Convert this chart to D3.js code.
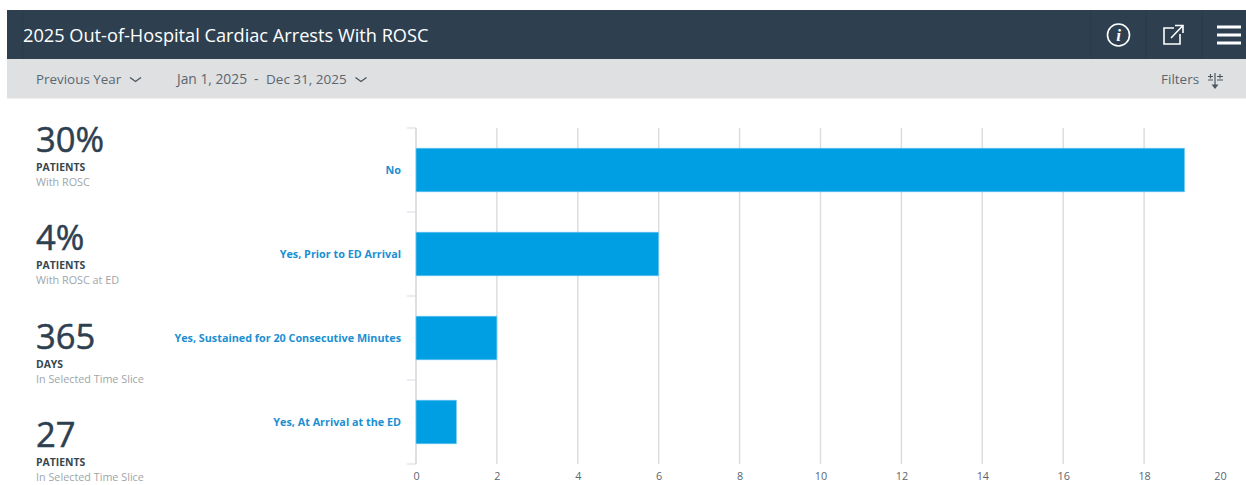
<!DOCTYPE html>
<html>
<head>
<meta charset="utf-8">
<script src="https://cdn.jsdelivr.net/npm/d3@7"></script>
<style>
  html, body { margin: 0; padding: 0; background: #fff; overflow: hidden; }
  svg { display: block; font-family: "Open Sans", sans-serif; }
</style>
</head>
<body>
<div id="chart"></div>
<script>
const categories = ["No", "Yes, Prior to ED Arrival", "Yes, Sustained for 20 Consecutive Minutes", "Yes, At Arrival at the ED"];
const values = [19, 6, 2, 1];
const xTicks = [0, 2, 4, 6, 8, 10, 12, 14, 16, 18, 20];

const statValues = ["30%", "4%", "365", "27"];
const statUnits = ["PATIENTS", "PATIENTS", "DAYS", "PATIENTS"];
const statNotes = ["With ROSC", "With ROSC at ED", "In Selected Time Slice", "In Selected Time Slice"];
const statTops = [152, 250, 349, 447];

const title = "2025 Out-of-Hospital Cardiac Arrests With ROSC";

const w = 1246;
const h = 485;

const svg = d3.select("#chart").append("svg")
  .attr("width", w)
  .attr("height", h);

// header bars
svg.append("rect").attr("x", 7).attr("y", 10).attr("width", w - 7).attr("height", 49).attr("fill", "#2e4050");
svg.append("rect").attr("x", 7).attr("y", 59).attr("width", w - 7).attr("height", 39.5).attr("fill", "#dfe0e2");

[23, 1091, 1146, 1202].forEach(x => {
  svg.append("line").attr("x1", x).attr("x2", x).attr("y1", 10).attr("y2", 59).attr("stroke", "#293947");
});

svg.append("text").attr("x", 23).attr("y", 41.5).attr("fill", "#fff").attr("font-size", 18.2).text(title);

const toolbar = svg.append("g").attr("fill", "#5a6670");
toolbar.append("text").attr("x", 36).attr("y", 84).attr("font-size", 13.4).text("Previous Year");
toolbar.append("text").attr("x", 177).attr("y", 84).attr("font-size", 13.8).text("Jan 1, 2025");
toolbar.append("text").attr("x", 254).attr("y", 84).attr("font-size", 13.8).text("-");
toolbar.append("text").attr("x", 266).attr("y", 84).attr("font-size", 13.5).text("Dec 31, 2025");
toolbar.append("text").attr("x", 1161).attr("y", 84).attr("font-size", 13.5).text("Filters");

// dropdown chevrons
[135.5, 361].forEach(x => {
  svg.append("path")
    .attr("d", `M${x - 5.5},77.5L${x},81.5L${x + 5.5},77.5`)
    .attr("fill", "none").attr("stroke", "#4a5660").attr("stroke-width", 1.4);
});

// filter icon
const filt = svg.append("g").attr("stroke", "#4a5660").attr("stroke-width", 1.2).attr("fill", "none");
filt.append("path").attr("d", "M1215,73V86M1208,76.5h5M1208,80h5M1217,76.5h6M1217,80h6M1210.5,74v4.5M1220,74v4.5");
svg.append("path").attr("d", "M1211.5,84.5h7l-3.5,4.5z").attr("fill", "#4a5660");

// info icon
svg.append("circle").attr("cx", 1118.5).attr("cy", 35).attr("r", 11).attr("fill", "none").attr("stroke", "#fff").attr("stroke-width", 1.6);
svg.append("text").attr("x", 1118.5).attr("y", 41).attr("text-anchor", "middle").attr("fill", "#fff")
  .attr("font-family", "'Liberation Serif', serif").attr("font-style", "italic").attr("font-weight", 700).attr("font-size", 17).text("i");

// external link icon
svg.append("path").attr("d", "M1180,34V44H1164V28H1174M1171,38L1182,26.5M1175,25.5H1183V33")
  .attr("fill", "none").attr("stroke", "#fff").attr("stroke-width", 1.6);

// hamburger
[27, 35, 43].forEach(y => {
  svg.append("line").attr("x1", 1217).attr("x2", 1241).attr("y1", y).attr("y2", y).attr("stroke", "#fff").attr("stroke-width", 3);
});

// left stats
const stats = svg.append("g").selectAll("g").data(statValues).enter().append("g");
stats.append("text").attr("x", 36).attr("y", (d, i) => statTops[i]).attr("font-size", 34.6)
  .attr("fill", "#2e4050").attr("stroke", "#2e4050").attr("stroke-width", 0.5).text(d => d);
stats.append("text").attr("x", 36).attr("y", (d, i) => statTops[i] + 18.5).attr("font-size", 10.4).attr("font-weight", 700).attr("fill", "#36474f").text((d, i) => statUnits[i]);
stats.append("text").attr("x", 36).attr("y", (d, i) => statTops[i] + 33.5).attr("font-size", 10.8).attr("fill", "#a0a5a9").text((d, i) => statNotes[i]);

// chart
const xScale = d3.scaleLinear().domain([0, 20]).range([416, 1225]);
const yScale = d3.scaleBand().domain(categories).range([128, 464]).paddingInner(0.48).paddingOuter(0.24);

const xAxis = d3.axisBottom(xScale).tickValues(xTicks).tickSize(0).tickPadding(8);
const xG = svg.append("g").attr("transform", "translate(0,464.5)").call(xAxis);
xG.select(".domain").remove();
xG.selectAll("text").attr("font-size", 10.8).attr("fill", "#5a6670").attr("font-family", "'Open Sans', sans-serif")
  .attr("dx", d => d === 20 ? -5 : 0);

// gridlines, the last tick has none
svg.append("g").selectAll("line").data(xTicks.slice(1, -1)).enter().append("line")
  .attr("x1", d => xScale(d)).attr("x2", d => xScale(d))
  .attr("y1", 128).attr("y2", 464)
  .attr("stroke", "#dcdddf").attr("stroke-width", 1.5);

// category boundary ticks and axis line
const step = yScale.step();
const boundaries = d3.range(categories.length + 1).map(i => 128 + i * step);
svg.append("g").selectAll("line").data(boundaries).enter().append("line")
  .attr("x1", 407).attr("x2", 416)
  .attr("y1", d => d).attr("y2", d => d)
  .attr("stroke", "#d5dbe6").attr("stroke-width", 1);
svg.append("line").attr("x1", 416).attr("x2", 416).attr("y1", 128).attr("y2", 464).attr("stroke", "#d4d5d7").attr("stroke-width", 1.5);

// bars
svg.append("g").selectAll("rect").data(values).enter().append("rect")
  .attr("x", xScale(0))
  .attr("y", (d, i) => yScale(categories[i]))
  .attr("width", d => xScale(d) - xScale(0))
  .attr("height", yScale.bandwidth())
  .attr("fill", "#009fe3")
  .attr("stroke", "#7fcdf0")
  .attr("stroke-width", 0.6);

// category labels
svg.append("g").selectAll("text").data(categories).enter().append("text")
  .attr("x", 401)
  .attr("y", d => yScale(d) + yScale.bandwidth() / 2 + 3.5)
  .attr("text-anchor", "end")
  .attr("font-size", 10.8)
  .attr("font-weight", 700)
  .attr("fill", "#1b8fd2")
  .text(d => d);
</script>
</body>
</html>
